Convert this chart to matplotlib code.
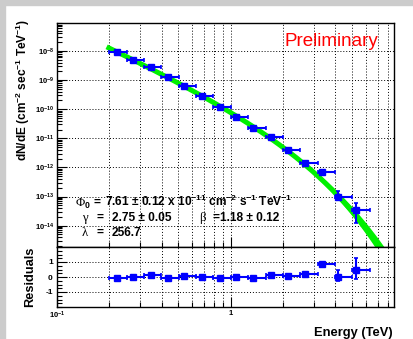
import numpy as np
import matplotlib
matplotlib.use('Agg')
import matplotlib.pyplot as plt
from matplotlib.patches import Rectangle
from matplotlib.ticker import LogLocator, MultipleLocator, FixedLocator, FixedFormatter, NullFormatter

plt.rcParams['font.family'] = 'Liberation Sans'
plt.rcParams['font.weight'] = 'bold'
plt.rcParams['mathtext.fontset'] = 'custom'
plt.rcParams['mathtext.rm'] = 'Liberation Sans:bold'
plt.rcParams['mathtext.it'] = 'Liberation Sans:bold'
plt.rcParams['mathtext.bf'] = 'Liberation Sans:bold'

W, H = 413, 339

# spectral points (TeV) with bin edges
energy = [0.2206, 0.2748, 0.3459, 0.4369, 0.5378, 0.680, 0.8667, 1.075,
          1.347, 1.697, 2.126, 2.673, 3.334, 4.154, 5.232]
e_lo = [0.1995, 0.2512, 0.3162, 0.3981, 0.5012, 0.6310, 0.7943, 1.000,
        1.259, 1.585, 1.995, 2.512, 3.162, 3.981, 5.012]
e_hi = [0.2512, 0.3162, 0.3981, 0.5012, 0.6310, 0.7943, 1.000, 1.259,
        1.585, 1.995, 2.512, 3.162, 3.981, 5.012, 6.310]

# dN/dE in cm^-2 s^-1 TeV^-1
flux = [9.46e-9, 4.91e-9, 2.88e-9, 1.25e-9, 6.27e-10, 2.84e-10, 1.19e-10, 5.27e-11,
        2.21e-11, 1.08e-11, 3.96e-12, 1.47e-12, 6.95e-13, 1.00e-13, 3.44e-14]
flux_err_lo = [2.8e-10, 1.5e-10, 9.0e-11, 4.0e-11, 2.0e-11, 9.5e-12, 4.5e-12, 2.1e-12,
               1.0e-12, 5.5e-13, 2.2e-13, 1.0e-13, 6.0e-14, 2.6e-14, 2.2e-14]
flux_err_hi = [2.8e-10, 1.5e-10, 9.0e-11, 4.0e-11, 2.0e-11, 9.5e-12, 4.5e-12, 2.1e-12,
               1.0e-12, 5.5e-13, 2.2e-13, 1.0e-13, 6.0e-14, 5.5e-14, 2.7e-14]

# fractional residuals to the fit
resid = [-0.04, 0.03, 0.12, -0.04, 0.05, -0.02, -0.09, -0.02,
         -0.04, 0.12, 0.10, 0.18, 0.86, 0.00, 0.50]
resid_err_lo = [0.03, 0.03, 0.03, 0.03, 0.03, 0.03, 0.04, 0.04,
                0.05, 0.05, 0.06, 0.07, 0.08, 0.27, 0.65]
resid_err_hi = [0.03, 0.03, 0.03, 0.03, 0.03, 0.03, 0.04, 0.04,
                0.05, 0.05, 0.06, 0.07, 0.08, 0.45, 0.77]

# fit parameters
phi0, phi0_err = 7.61e-11, 0.12e-11
gamma, gamma_err = 2.75, 0.05
beta, beta_err = 1.18, 0.12
lam = 256.7

blue = '#0000ff'
green = '#00f000'


def px(x, y):
    return x / W, 1 - y / H


fig = plt.figure(figsize=(W / 100, H / 100), dpi=100)
fig.patches.append(Rectangle((0, 1 - 5 / H), 1, 5 / H, transform=fig.transFigure,
                             color='#cccccc', zorder=0))
fig.patches.append(Rectangle((0, 0), 5 / W, 1, transform=fig.transFigure,
                             color='#cccccc', zorder=0))

ax = fig.add_axes([57 / W, 1 - 247 / H, 337 / W, 224 / H])
axr = fig.add_axes([57 / W, 1 - 307 / H, 337 / W, 60 / H])

# fit curve with its error band
e_fit = np.geomspace(0.193, 8.5, 300)
f_fit = phi0 * e_fit ** -gamma * np.exp(-(e_fit - 1) / beta)
sig = np.sqrt((gamma_err * np.log10(e_fit)) ** 2 +
              (np.log10(np.e) * (e_fit - 1) / beta ** 2 * beta_err) ** 2)
ax.fill_between(e_fit, f_fit * 10 ** -sig, f_fit * 10 ** sig, color=green, lw=0, zorder=2)
ax.plot(e_fit, f_fit, color=green, lw=3.6, solid_capstyle='butt', zorder=2)

energy = np.array(energy)
xerr = [energy - np.array(e_lo), np.array(e_hi) - energy]
ax.errorbar(energy, flux, xerr=xerr, yerr=[flux_err_lo, flux_err_hi], fmt='s',
            color=blue, ms=4.3, lw=1.5, capsize=1.6, capthick=1.2, zorder=3)
axr.errorbar(energy, resid, xerr=xerr, yerr=[resid_err_lo, resid_err_hi], fmt='s',
             color=blue, ms=4.3, lw=1.5, capsize=1.6, capthick=1.2, zorder=3)

for a in (ax, axr):
    a.set_xscale('log')
    a.set_xlim(0.1, 8.7)
    a.xaxis.set_major_locator(FixedLocator([0.1, 1]))
    a.xaxis.set_minor_locator(FixedLocator([0.2, 0.3, 0.4, 0.5, 0.6, 0.7, 0.8, 0.9,
                                            2, 3, 4, 5, 6, 7, 8]))
    a.xaxis.set_minor_formatter(NullFormatter())
    a.grid(True, axis='x', which='both', color='k', ls=(0, (1, 2)), lw=0.7)
    a.grid(True, axis='y', which='major', color='k', ls=(0, (1, 2)), lw=0.7)
    a.tick_params(which='both', direction='in', top=False, right=False,
                  labelsize=5.5, width=0.8, pad=2)
    a.tick_params(which='major', length=7)
    a.tick_params(which='minor', length=3.5)
    for s in a.spines.values():
        s.set_linewidth(1.0)

ax.set_yscale('log')
ax.set_ylim(1.84e-15, 9.16e-8)
ax.yaxis.set_major_locator(LogLocator(base=10, numticks=20))
ax.yaxis.set_minor_locator(LogLocator(base=10, subs=np.arange(2, 10), numticks=20))
ax.yaxis.set_minor_formatter(NullFormatter())
ax.tick_params(axis='x', labelbottom=False)

axr.set_ylim(-2, 2)
axr.yaxis.set_major_locator(FixedLocator([-1, 0, 1]))
axr.yaxis.set_major_formatter(FixedFormatter(['-1', '0', '1']))
axr.yaxis.set_minor_locator(MultipleLocator(0.25))
axr.tick_params(axis='y', labelsize=6, pad=3)
axr.xaxis.set_major_formatter(FixedFormatter(['10$^{-1}$', '1']))

# axis titles
fig.text(*px(23, 90), 'dN/dE (cm$^{-2}$ sec$^{-1}$ TeV$^{-1}$)', rotation=90,
         ha='center', va='center', fontsize=8.6)
fig.text(*px(30.5, 277), 'Residuals', rotation=90, ha='center', va='center', fontsize=9.2)
fig.text(*px(393, 336), 'Energy (TeV)', ha='right', va='baseline', fontsize=9.3)
fig.text(*px(285, 46.5), 'Preliminary', ha='left', va='baseline', fontsize=13.5,
         color='#ff0000', fontweight='normal')

# fit results
greek = dict(family='Liberation Serif', fontweight='normal', fontsize=9.2, va='baseline')
val = dict(fontsize=8.6, va='baseline')
fig.text(*px(76, 206), '\u03a6', **greek)
fig.text(*px(84.5, 208), '0', fontsize=6.2, va='baseline')
fig.text(*px(94, 206), '=', **val)
fig.text(*px(105, 206), f'{phi0 * 1e11:.2f} \u00b1 {phi0_err * 1e11:.2f} x 10$^{{-11}}$ '
         'cm$^{-2}$ s$^{-1}$ TeV$^{-1}$', **val)
fig.text(*px(82, 221), '\u03b3', **greek)
fig.text(*px(96.5, 221), '=', **val)
fig.text(*px(111.5, 221), f'{gamma:.2f} \u00b1 {gamma_err:.2f}', **val)
fig.text(*px(199, 221), '\u03b2', **greek)
fig.text(*px(213, 221), f'={beta:.2f} \u00b1 {beta_err:.2f}', **val)
fig.text(*px(82, 235.5), '\u03bb', **greek)
fig.text(*px(96.5, 235.5), '=', **val)
fig.text(*px(111.5, 235.5), f'{lam:.1f}', **val)

plt.savefig('out.png', dpi=100)
